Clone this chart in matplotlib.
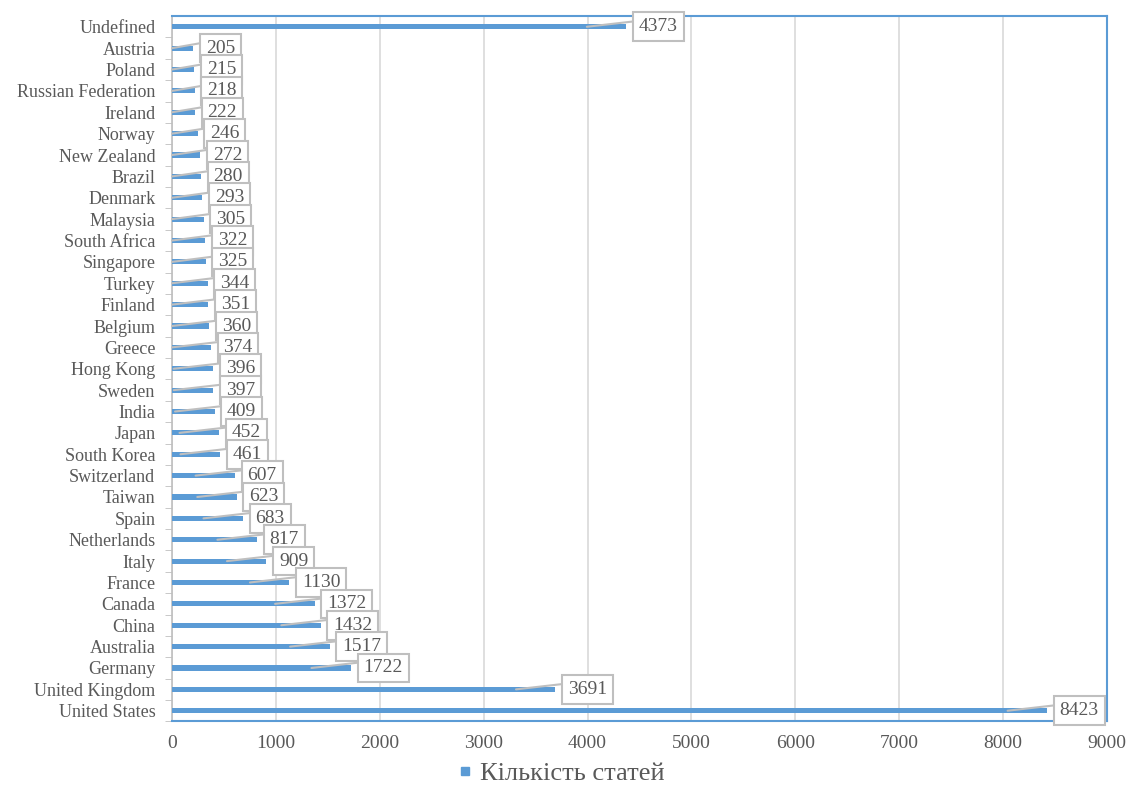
import matplotlib.pyplot as plt
from matplotlib.lines import Line2D

countries = ['United States', 'United Kingdom', 'Germany', 'Australia', 'China', 'Canada',
             'France', 'Italy', 'Netherlands', 'Spain', 'Taiwan', 'Switzerland', 'South Korea',
             'Japan', 'India', 'Sweden', 'Hong Kong', 'Greece', 'Belgium', 'Finland', 'Turkey',
             'Singapore', 'South Africa', 'Malaysia', 'Denmark', 'Brazil', 'New Zealand',
             'Norway', 'Ireland', 'Russian Federation', 'Poland', 'Austria', 'Undefined']
counts = [8423, 3691, 1722, 1517, 1432, 1372, 1130, 909, 817, 683, 623, 607, 461, 452, 409,
          397, 396, 374, 360, 351, 344, 325, 322, 305, 293, 280, 272, 246, 222, 218, 215, 205,
          4373]

blue = '#5B9BD5'
grey = '#595959'
light = '#BFBFBF'

plt.rcParams['font.family'] = ['Liberation Serif', 'DejaVu Serif']

fig = plt.figure(figsize=(11.28, 7.85), dpi=100)
ax = fig.add_axes([0.1525, 0.081, 0.8289, 0.8985])

ypos = list(range(len(countries)))
ax.barh(ypos, counts, height=0.24, color=blue, zorder=3)

# callout labels, leader line goes to the upper-left corner of the box
for i, v in enumerate(ypos):
    val = counts[i]
    ax.annotate(str(val), xy=(max(val - 380, 0), v), xytext=(val + 120, v),
                ha='left', va='center', fontsize=14, color=grey,
                bbox=dict(boxstyle='square,pad=0.3', fc='white', ec=light, lw=1.5),
                arrowprops=dict(arrowstyle='-', color=light, lw=1.5, shrinkA=0, shrinkB=0,
                                relpos=(0, 0.85)),
                zorder=10 + len(ypos) - i, annotation_clip=False)

ax.set_xlim(0, 9000)
ax.set_ylim(-0.5, len(countries) - 0.5)
ax.set_xticks(range(0, 9001, 1000))
ax.set_yticks(ypos)
ax.set_yticklabels(countries)
ax.set_yticks([y + 0.5 for y in ypos[:-1]] + [-0.5], minor=True)
ax.tick_params(axis='y', which='major', length=0, labelsize=13, labelcolor=grey, pad=12)
ax.tick_params(axis='y', which='minor', length=5, color=light, direction='out')
ax.tick_params(axis='x', length=0, labelsize=14, labelcolor=grey, pad=10)
ax.grid(axis='x', color='#D9D9D9', lw=1.2, zorder=0)

for s in ['top', 'right', 'bottom']:
    ax.spines[s].set_color(blue)
    ax.spines[s].set_linewidth(1.5)
ax.spines['left'].set_color(light)
ax.spines['left'].set_linewidth(1.2)

handle = Line2D([], [], ls='none', marker='s', markersize=6, color=blue)
fig.legend([handle], ['Кількість статей'], loc='center', bbox_to_anchor=(0.497, 0.015),
           frameon=False, fontsize=19, handlelength=0.6, handletextpad=0.25, labelcolor=grey)

fig.savefig('out.png', dpi=100)
